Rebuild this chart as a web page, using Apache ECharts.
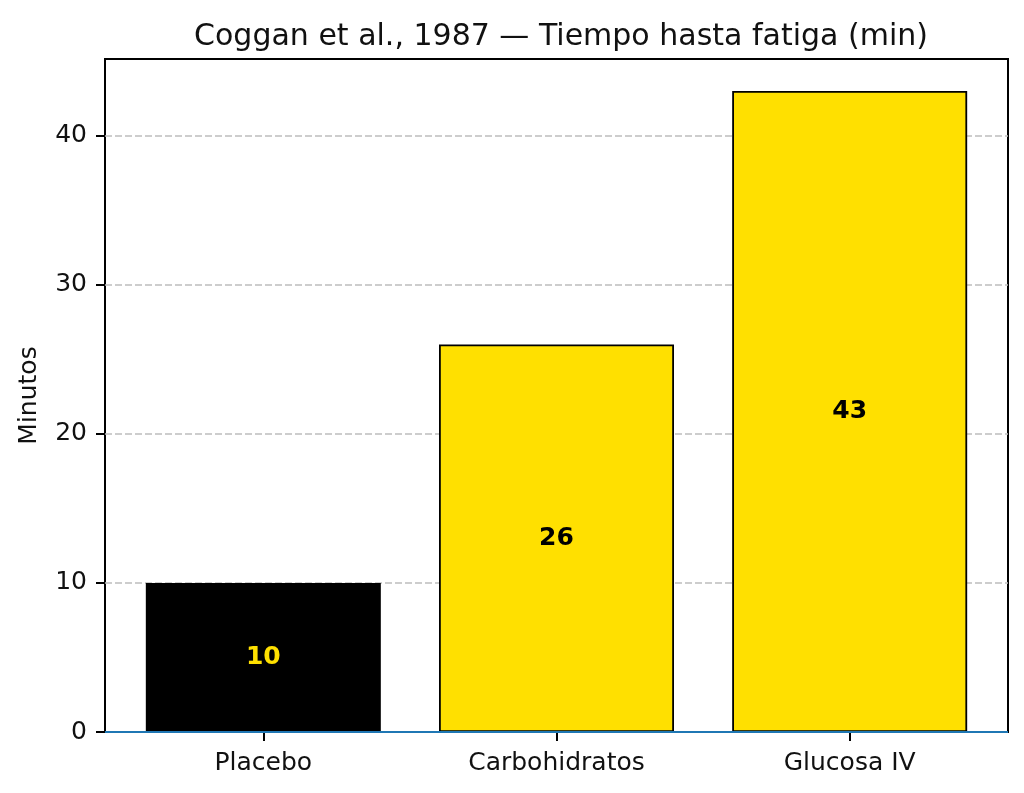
<!DOCTYPE html>
<html>
<head>
<meta charset="utf-8">
<script src="https://cdn.jsdelivr.net/npm/echarts@6/dist/echarts.min.js"></script>
<style>
html,body{margin:0;padding:0;background:#fff;}
#c{width:1024px;height:793px;}
</style>
</head>
<body>
<div id="c"></div>
<script>
const categories = ['Placebo', 'Carbohidratos', 'Glucosa IV'];
const values = [10, 26, 43];
const barColors = ['#000000', '#FFE000', '#FFE000'];
const labelColors = ['#FFE000', '#000000', '#000000'];
const yTicks = [0, 10, 20, 30, 40];
const titleText = 'Coggan et al., 1987 \u2014 Tiempo hasta fatiga (min)';
const yName = 'Minutos';

const FONT = 'DejaVu Sans';
const chart = echarts.init(document.getElementById('c'), null, {renderer: 'canvas'});

const barData = values.map((v, i) => ({
  value: [i, v],
  itemStyle: {color: barColors[i], borderColor: '#000', borderWidth: 1.8},
  label: {color: labelColors[i]}
}));

chart.setOption({
  animation: false,
  backgroundColor: '#fff',
  title: {
    text: titleText,
    left: 556, textAlign: 'center',
    top: 17,
    textStyle: {fontFamily: FONT, fontSize: 30, fontWeight: 'normal', color: '#111'}
  },
  grid: {
    left: 105, right: 16, top: 59, bottom: 61,
    show: true, borderColor: '#000', borderWidth: 2, backgroundColor: 'transparent'
  },
  xAxis: {
    type: 'value',
    min: -0.54, max: 2.54,
    axisLine: {show: false, onZero: false},
    splitLine: {show: false},
    axisTick: {show: true, length: 9, lineStyle: {color: '#000', width: 2}, customValues: categories.map((c, i) => i)},
    axisLabel: {
      customValues: categories.map((c, i) => i),
      formatter: v => categories[Math.round(v)] || '',
      fontFamily: FONT, fontSize: 25, color: '#111', margin: 19
    }
  },
  yAxis: {
    type: 'value',
    min: 0, max: 45.15,
    interval: 10,
    name: yName,
    nameLocation: 'middle',
    nameGap: 63,
    nameTextStyle: {fontFamily: FONT, fontSize: 25, color: '#111'},
    axisLine: {show: false, onZero: false},
    axisTick: {show: true, length: 9, lineStyle: {color: '#000', width: 2}, customValues: yTicks},
    axisLabel: {customValues: yTicks, fontFamily: FONT, fontSize: 25, color: '#111', margin: 18},
    splitLine: {show: true, lineStyle: {color: '#bdbdbd', width: 1.5, type: [7, 3]}}
  },
  series: [{
    type: 'bar',
    data: barData,
    barWidth: 235,
    label: {
      show: true, position: 'inside',
      formatter: p => String(p.value[1]),
      fontFamily: FONT, fontSize: 25, fontWeight: 'bold'
    },
    markLine: {
      silent: true, symbol: 'none', label: {show: false},
      lineStyle: {color: '#1f77b4', width: 2, type: 'solid'},
      data: [{yAxis: 0}]
    }
  }]
});
</script>
</body>
</html>
